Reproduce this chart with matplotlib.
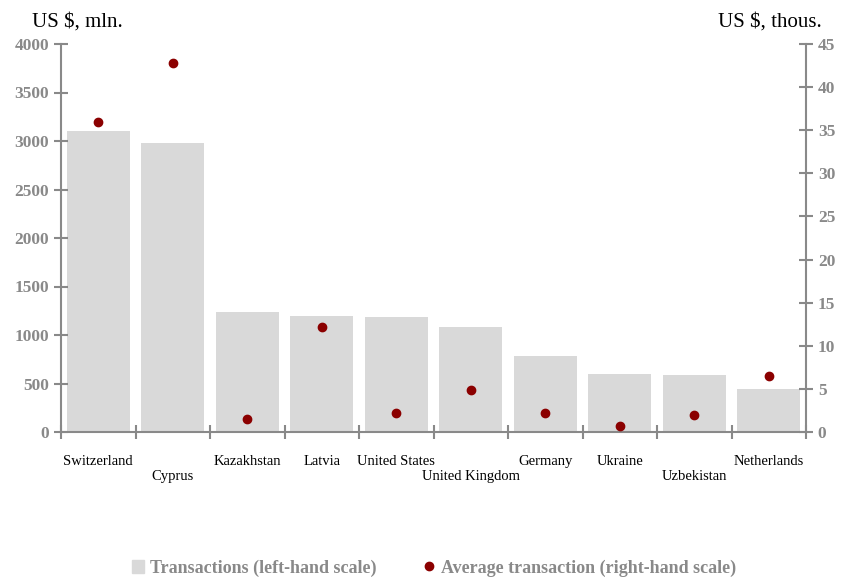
import numpy as np
import matplotlib.pyplot as plt
from matplotlib.lines import Line2D
from matplotlib.patches import Patch

plt.rcParams['font.family'] = ['Liberation Serif', 'DejaVu Serif']

countries = ["Switzerland", "Cyprus", "Kazakhstan", "Latvia", "United States",
             "United Kingdom", "Germany", "Ukraine", "Uzbekistan", "Netherlands"]
transactions = [3100, 2980, 1240, 1195, 1185, 1085, 780, 595, 585, 445]
avg_transaction = [36.0, 42.8, 1.5, 12.2, 2.2, 4.9, 2.2, 0.7, 2.0, 6.5]
lower_labels = ["Cyprus", "United Kingdom", "Uzbekistan"]

gray = "#898989"
bar_color = "#d9d9d9"
dot_color = "#8b0000"

fig = plt.figure(figsize=(8.48, 5.77), dpi=100)
ax = fig.add_axes([61 / 848, 1 - 432 / 577, 745 / 848, 388 / 577])
x = np.arange(len(countries))
ax.bar(x, transactions, width=0.84, color=bar_color, zorder=1)
ax.set_xlim(-0.5, len(countries) - 0.5)
ax.set_ylim(0, 4000)
ax.set_yticks(range(0, 4001, 500))

ax2 = ax.twinx()
ax2.scatter(x, avg_transaction, s=36, color=dot_color, zorder=3)
ax2.set_ylim(0, 45)
ax2.set_yticks(range(0, 46, 5))

for a in (ax, ax2):
    for s in a.spines.values():
        s.set_color(gray)
        s.set_linewidth(1.5)
    a.spines['top'].set_visible(False)
    a.tick_params(axis='y', direction='inout', length=10, width=1.5, color=gray,
                  labelcolor=gray, labelsize=12.5)
    for lab in a.get_yticklabels():
        lab.set_fontweight('bold')
ax.spines['right'].set_visible(False)
ax2.spines['left'].set_visible(False)
ax2.spines['bottom'].set_visible(False)

# category boundary ticks on x axis
ax.set_xticks(np.arange(-0.5, len(countries), 1.0))
ax.set_xticklabels([])
ax.tick_params(axis='x', direction='inout', length=10, width=1.5, color=gray)

for i, c in enumerate(countries):
    off = -32 if c in lower_labels else -21
    ax.annotate(c, (i, 0), xytext=(0, off), textcoords='offset points',
                ha='center', va='center', fontsize=10.5, color='black',
                annotation_clip=False)

fig.text(32 / 848, 1 - 22 / 577, "US $, mln.", fontsize=15, ha='left', va='center')
fig.text(822 / 848, 1 - 22 / 577, "US $, thous.", fontsize=15, ha='right', va='center')

handles = [Patch(color=bar_color, label="Transactions (left-hand scale)"),
           Line2D([], [], marker='o', linestyle='none', color=dot_color, markersize=6,
                  label="Average transaction (right-hand scale)")]
leg = fig.legend(handles=handles, loc='center', bbox_to_anchor=(434 / 848, 1 - 568 / 577),
                 ncol=2, frameon=False, handlelength=0.7, handleheight=0.7,
                 handletextpad=0.3, columnspacing=2.6,
                 prop={'weight': 'bold', 'size': 13})
for t in leg.get_texts():
    t.set_color(gray)

fig.savefig("out.png", dpi=100)
